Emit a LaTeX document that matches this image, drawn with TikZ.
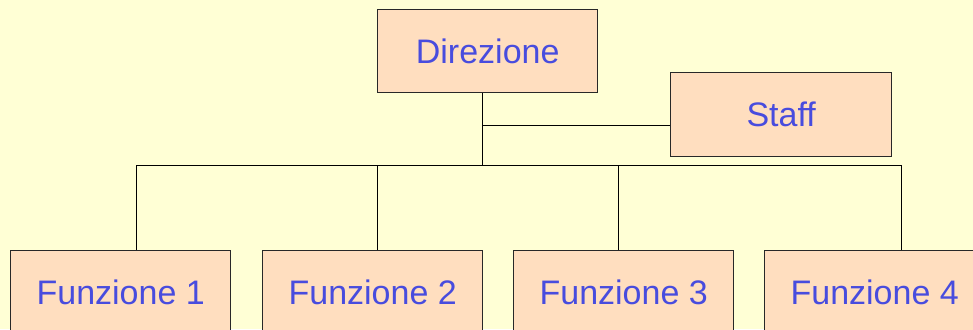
\documentclass[tikz,border=0pt]{standalone}
\usepackage{fontspec}
\setmainfont{Liberation Sans}
\definecolor{bgyellow}{RGB}{255,255,213}
\definecolor{boxfill}{RGB}{255,222,191}
\definecolor{labelblue}{RGB}{72,76,222}
\definecolor{edge}{RGB}{40,40,40}
\begin{document}
\begin{tikzpicture}[x=1pt,y=-1pt,
  orgbox/.style={draw=edge,line width=1.4pt,fill=boxfill,minimum width=220pt,
    minimum height=83pt,inner sep=0pt,anchor=north west,
    font=\fontsize{34}{40}\selectfont,text=labelblue},
  link/.style={draw=black,line width=1pt}]
\fill[bgyellow] (0,0) rectangle (973,329);
\useasboundingbox (0,0) rectangle (973,329);
\clip (0,0) rectangle (973,329);
% boxes
\node[orgbox] (dir) at (377,9) {Direzione};
\node[orgbox,minimum height=84pt,minimum width=221pt] (staff) at (670,72) {Staff};
\node[orgbox] (f1) at (10,250) {Funzione 1};
\node[orgbox] (f2) at (262,250) {Funzione 2};
\node[orgbox] (f3) at (513,250) {Funzione 3};
\node[orgbox] (f4) at (764,250) {Funzione 4};
% connectors
\coordinate (stafftap) at (482,125);
\coordinate (bus) at (482,165);
\coordinate (b1) at (136,165);
\coordinate (b2) at (377,165);
\coordinate (b3) at (618,165);
\coordinate (b4) at (901,165);
\draw[link] (dir.south -| bus) -- (bus);
\draw[link] (stafftap) -- (staff.west |- stafftap);
\draw[link] (b1) -- (b4);
\draw[link] (b1) -- (f1.north -| b1);
\draw[link] (b2) -- (f2.north -| b2);
\draw[link] (b3) -- (f3.north -| b3);
\draw[link] (b4) -- (f4.north -| b4);
\end{tikzpicture}
\end{document}
